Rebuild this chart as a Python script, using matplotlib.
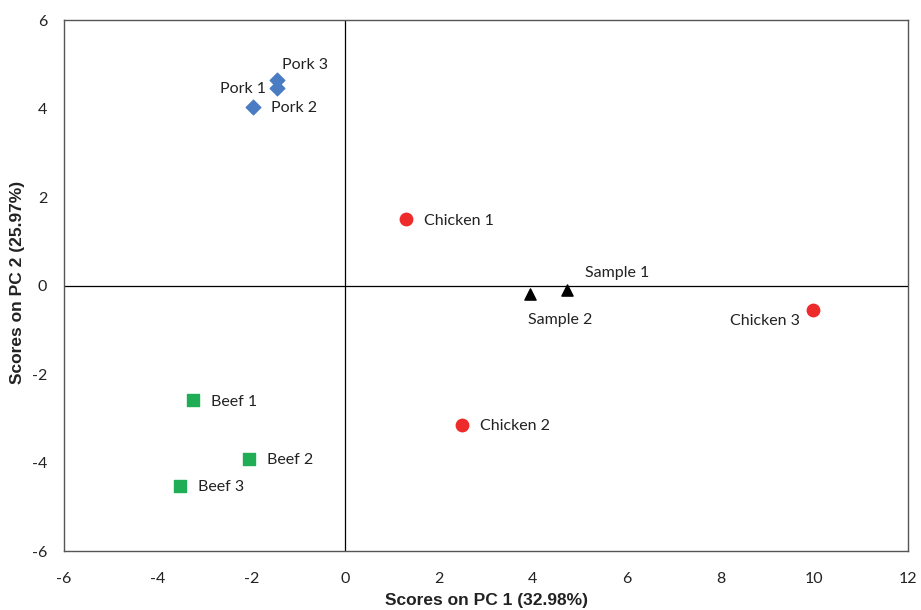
import matplotlib.pyplot as plt

plt.rcParams["axes.unicode_minus"] = False

# PCA scores
pork_x = [-1.45, -1.97, -1.46]
pork_y = [4.47, 4.04, 4.64]
pork_names = ["Pork 1", "Pork 2", "Pork 3"]

beef_x = [-3.25, -2.05, -3.53]
beef_y = [-2.59, -3.92, -4.52]
beef_names = ["Beef 1", "Beef 2", "Beef 3"]

chicken_x = [1.30, 2.49, 9.98]
chicken_y = [1.50, -3.15, -0.55]
chicken_names = ["Chicken 1", "Chicken 2", "Chicken 3"]

sample_x = [4.73, 3.93]
sample_y = [-0.09, -0.18]
sample_names = ["Sample 1", "Sample 2"]

# label offsets (points), per name
offsets = {
    "Pork 1": (-8, -1, "right"),
    "Pork 2": (13, -1, "left"),
    "Pork 3": (4, 11, "left"),
    "Beef 1": (13, -1, "left"),
    "Beef 2": (13, -1, "left"),
    "Beef 3": (13, -1, "left"),
    "Chicken 1": (13, -1, "left"),
    "Chicken 2": (13, -1, "left"),
    "Chicken 3": (-10, -8, "right"),
    "Sample 1": (13, 12, "left"),
    "Sample 2": (-1, -19, "left"),
}

label_font = "Lato"

fig = plt.figure(figsize=(9.21, 6.10), dpi=100)
ax = fig.add_axes([0.0695, 0.0967, 0.9165, 0.870])

ax.axhline(0, color="black", lw=0.9, zorder=1)
ax.axvline(0, color="black", lw=0.9, zorder=1)

ax.scatter(pork_x, pork_y, marker="D", s=55, color="#4a7cc4", zorder=3)
ax.scatter(beef_x, beef_y, marker="s", s=75, color="#1fae55", zorder=3)
ax.scatter(chicken_x, chicken_y, marker="o", s=80, color="#ee2b2b", zorder=3)
ax.scatter(sample_x, sample_y, marker="^", s=65, color="black", zorder=3)

for xs, ys, names in [(pork_x, pork_y, pork_names), (beef_x, beef_y, beef_names),
                      (chicken_x, chicken_y, chicken_names),
                      (sample_x, sample_y, sample_names)]:
    for x, y, n in zip(xs, ys, names):
        dx, dy, ha = offsets[n]
        ax.annotate(n, (x, y), xytext=(dx, dy), textcoords="offset points",
                    ha=ha, va="center", fontsize=11.5, family=label_font,
                    color="#222222")

ax.set_xlim(-6, 12)
ax.set_ylim(-6, 6)
ax.set_xticks(range(-6, 13, 2))
ax.set_yticks(range(-6, 7, 2))
ax.tick_params(length=0, labelsize=11.5, colors="#222222")
ax.tick_params(axis="x", pad=15)
ax.tick_params(axis="y", pad=12)
for lab in ax.get_xticklabels() + ax.get_yticklabels():
    lab.set_family(label_font)
for s in ax.spines.values():
    s.set_color("#555555")
    s.set_linewidth(1.0)

# axis titles placed where the reference has them
fig.text(486 / 921, 1 - 601 / 610, "Scores on PC 1 (32.98%)", ha="center",
         va="center", fontsize=12.5, fontweight="bold", family="Liberation Sans",
         color="#222222")
fig.text(18 / 921, 1 - 282 / 610, "Scores on PC 2 (25.97%)", ha="center",
         va="center", rotation=90, fontsize=12.5, fontweight="bold",
         family="Liberation Sans", color="#222222")

fig.savefig("out.png", dpi=100)
